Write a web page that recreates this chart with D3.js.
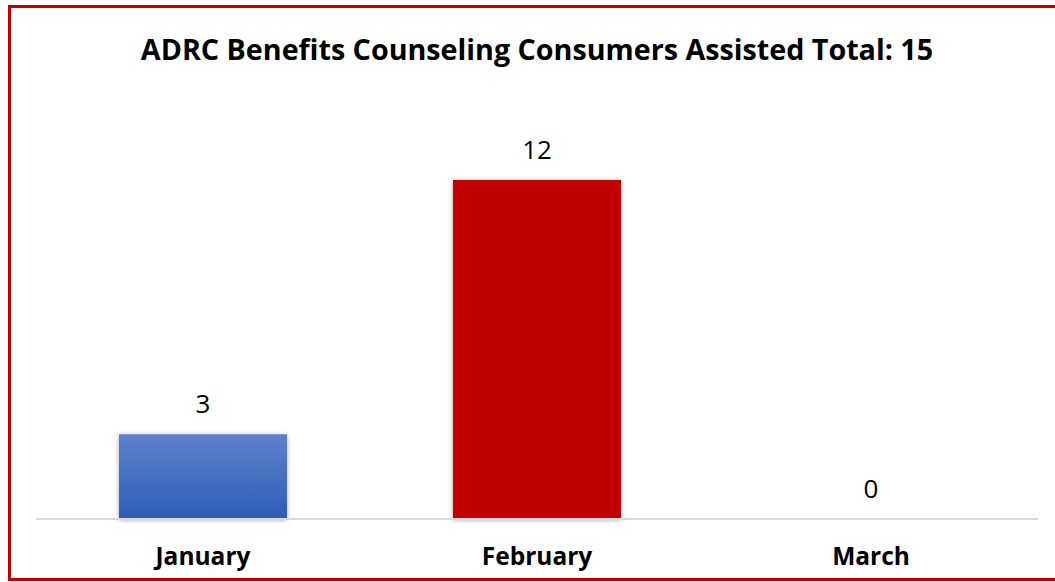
<!DOCTYPE html>
<html>
<head>
<meta charset="utf-8">
<script src="https://cdn.jsdelivr.net/npm/d3@7"></script>
<style>
  body { margin: 0; background: #fff; }
  svg { display: block; }
</style>
</head>
<body>
<script>
// chart values
var months = ['January', 'February', 'March'];
var consumers = [3, 12, 0];
var barColors = ['url(#blueGrad)', '#c00000', '#c00000'];
var titleText = 'ADRC Benefits Counseling Consumers Assisted Total: 15';

var w = 1055, h = 582;
var font = "'Open Sans', 'Noto Sans', sans-serif";

var svg = d3.select('body')
  .append('svg')
  .attr('width', w)
  .attr('height', h);

var defs = svg.append('defs');
var grad = defs.append('linearGradient')
  .attr('id', 'blueGrad')
  .attr('x1', 0).attr('y1', 0).attr('x2', 0).attr('y2', 1);
grad.append('stop').attr('offset', '0%').attr('stop-color', '#5e81ca');
grad.append('stop').attr('offset', '100%').attr('stop-color', '#2e5eb7');

var shadow = defs.append('filter')
  .attr('id', 'shadow')
  .attr('x', '-20%').attr('y', '-20%')
  .attr('width', '140%').attr('height', '140%');
shadow.append('feDropShadow')
  .attr('dx', 0).attr('dy', 1)
  .attr('stdDeviation', 2.5)
  .attr('flood-color', '#000')
  .attr('flood-opacity', 0.35);

svg.append('rect')
  .attr('width', w)
  .attr('height', h)
  .attr('fill', '#fff');

// frame (right edge runs off the picture)
svg.append('rect')
  .attr('x', 9.5)
  .attr('y', 6.5)
  .attr('width', w + 20)
  .attr('height', 573)
  .attr('fill', 'none')
  .attr('stroke', '#c00000')
  .attr('stroke-width', 3);

var x = d3.scaleBand()
  .domain(months)
  .range([36, 1038])
  .paddingInner(0.497)
  .paddingOuter(0.2485);

var y = d3.scaleLinear()
  .domain([0, 12])
  .range([519, 180]);

svg.append('text')
  .attr('x', 537)
  .attr('y', 60)
  .attr('text-anchor', 'middle')
  .attr('font-family', font)
  .attr('font-weight', 'bold')
  .attr('font-size', 28.7)
  .attr('fill', '#000')
  .text(titleText);

svg.selectAll('rect.bar')
  .data(consumers)
  .enter()
  .append('rect')
  .attr('class', 'bar')
  .attr('x', function (d, i) { return x(months[i]); })
  .attr('y', function (d) { return y(d); })
  .attr('width', x.bandwidth())
  .attr('height', function (d) { return y(0) - y(d); })
  .attr('fill', function (d, i) { return barColors[i]; })
  .attr('filter', 'url(#shadow)');

// baseline
svg.append('line')
  .attr('x1', 36).attr('x2', 1038)
  .attr('y1', 519).attr('y2', 519)
  .attr('stroke', '#d9d9d9')
  .attr('stroke-width', 2);

svg.selectAll('text.val')
  .data(consumers)
  .enter()
  .append('text')
  .attr('class', 'val')
  .attr('x', function (d, i) { return x(months[i]) + x.bandwidth() / 2; })
  .attr('y', function (d) { return y(d) - 21; })
  .attr('text-anchor', 'middle')
  .attr('font-family', font)
  .attr('font-size', 26)
  .attr('fill', '#000')
  .text(function (d) { return d; });

svg.selectAll('text.cat')
  .data(months)
  .enter()
  .append('text')
  .attr('class', 'cat')
  .attr('x', function (d) { return x(d) + x.bandwidth() / 2; })
  .attr('y', 565)
  .attr('text-anchor', 'middle')
  .attr('font-family', font)
  .attr('font-weight', 'bold')
  .attr('font-size', 24.5)
  .attr('fill', '#000')
  .text(function (d) { return d; });
</script>
</body>
</html>
